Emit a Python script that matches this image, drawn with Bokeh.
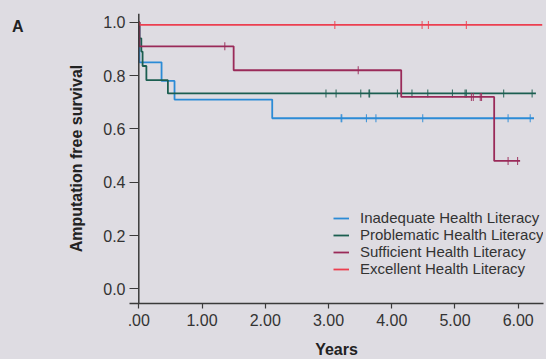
import numpy as np
from bokeh.plotting import figure
from bokeh.layouts import row
from bokeh.models import Range1d, Span, Legend, LegendItem, FixedTicker, Div
from bokeh.embed import file_html
from bokeh.resources import INLINE

# ---- data ----
groups = ["Inadequate Health Literacy", "Problematic Health Literacy",
          "Sufficient Health Literacy", "Excellent Health Literacy"]
colors = ["#2b8bd6", "#1b5e50", "#9a2a59", "#ec3f50"]

inad_t = [0.0, 0.01, 0.36, 0.565, 2.11, 6.25]
inad_s = [1.0, 0.85, 0.78, 0.71, 0.64, 0.64]
inad_c = [3.20, 3.21, 3.60, 3.75, 4.49, 5.84, 6.19]

prob_t = [0.0, 0.01, 0.04, 0.06, 0.12, 0.46, 6.28]
prob_s = [1.0, 0.94, 0.89, 0.836, 0.783, 0.733, 0.733]
prob_c = [2.96, 3.12, 3.51, 3.64, 3.65, 4.09, 4.32, 4.57, 4.96, 5.16, 5.18, 5.77, 6.22]

suff_t = [0.0, 0.01, 1.50, 4.15, 5.62, 6.03]
suff_s = [1.0, 0.91, 0.82, 0.72, 0.48, 0.48]
suff_c = [1.36, 3.47, 5.26, 5.29, 5.40, 5.42, 5.84, 5.99]

exc_t = [0.0, 0.01, 6.38]
exc_s = [1.0, 0.99, 0.99]
exc_c = [3.10, 4.48, 4.58, 5.18]

x_ticks = [0, 1, 2, 3, 4, 5, 6]
x_tick_labels = [".00", "1.00", "2.00", "3.00", "4.00", "5.00", "6.00"]
y_ticks = [0.0, 0.2, 0.4, 0.6, 0.8, 1.0]
y_tick_labels = ["0.0", "0.2", "0.4", "0.6", "0.8", "1.0"]
panel_label = "A"

series = [(inad_t, inad_s, inad_c), (prob_t, prob_s, prob_c),
          (suff_t, suff_s, suff_c), (exc_t, exc_s, exc_c)]

BG = "#dedce2"
AX = "#3a3a3a"
FONT = "Liberation Sans"
DIV_W = 30

p = figure(frame_width=414, frame_height=290,
           min_border_left=129 - DIV_W, min_border_right=3, min_border_top=13, min_border_bottom=56,
           x_range=Range1d(-0.147, 6.40), y_range=Range1d(-0.055, 1.033),
           output_backend="svg", toolbar_location=None,
           background_fill_color=BG, border_fill_color=BG)
p.outline_line_color = None
p.grid.visible = False

def surv_at(ts, ss, t):
    idx = np.searchsorted(ts, t, side="right") - 1
    return ss[idx]

items = []
for (ts, ss, cs), name, col in zip(series, groups, colors):
    r = p.step(ts, ss, mode="after", line_color=col, line_width=1.8)
    cy = [surv_at(ts, ss, c) for c in cs]
    p.scatter(cs, cy, marker="dash", angle=np.pi / 2, size=8,
              line_color=col, line_width=1.1, line_alpha=0.85)
    items.append(LegendItem(label=name, renderers=[r]))

# y axis line placed at x = 0
p.add_layout(Span(location=0, dimension="height", line_color=AX, line_width=1.5))

# axes styling
xa = p.xaxis[0]
xa.ticker = FixedTicker(ticks=x_ticks)
xa.major_label_overrides = {t: l for t, l in zip(x_ticks, x_tick_labels)}
xa.axis_line_color = AX
xa.axis_line_width = 1.5
xa.major_tick_line_color = AX
xa.major_tick_line_width = 1.2
xa.major_tick_out = 5
xa.major_tick_in = 0
xa.minor_tick_line_color = None
xa.major_label_standoff = 5
xa.major_label_text_font = FONT
xa.major_label_text_font_size = "16px"
xa.major_label_text_color = "#333333"
xa.axis_label = "Years"
xa.axis_label_text_font = FONT
xa.axis_label_text_font_style = "bold"
xa.axis_label_text_font_size = "16px"
xa.axis_label_text_color = "#222222"
xa.axis_label_standoff = 12

ya = p.yaxis[0]
ya.ticker = FixedTicker(ticks=y_ticks)
ya.major_label_overrides = {t: l for t, l in zip(y_ticks, y_tick_labels)}
ya.axis_line_color = None
ya.major_tick_line_color = AX
ya.major_tick_line_width = 1.2
ya.major_tick_in = 9
ya.major_tick_out = 0
ya.minor_tick_line_color = None
ya.major_label_standoff = 4
ya.major_label_text_font = FONT
ya.major_label_text_font_size = "16px"
ya.major_label_text_color = "#333333"
ya.axis_label = "Amputation free survival"
ya.axis_label_text_font = FONT
ya.axis_label_text_font_style = "bold"
ya.axis_label_text_font_size = "16px"
ya.axis_label_text_color = "#222222"
ya.axis_label_standoff = 15

legend = Legend(items=items, location=(204, 26),
                background_fill_alpha=0, border_line_color=None,
                label_text_font=FONT, label_text_font_size="15px",
                label_text_color="#333333",
                glyph_width=16, glyph_height=16, label_height=16,
                label_standoff=11, spacing=0, padding=0, margin=0)
p.add_layout(legend)

div = Div(text=(f'<div style="padding:18px 0 0 12px;font-family:\'Liberation Sans\',Arial,sans-serif;'
                f'font-weight:bold;font-size:16px;line-height:18px;color:#222222;">{panel_label}</div>'),
          width=DIV_W, height=p.frame_height + 13 + 56,
          styles={"background-color": BG, "margin": "0", "padding": "0"})

layout = row(div, p, spacing=0, styles={"background-color": BG})

open("out.html", "w").write(file_html(layout, INLINE))
